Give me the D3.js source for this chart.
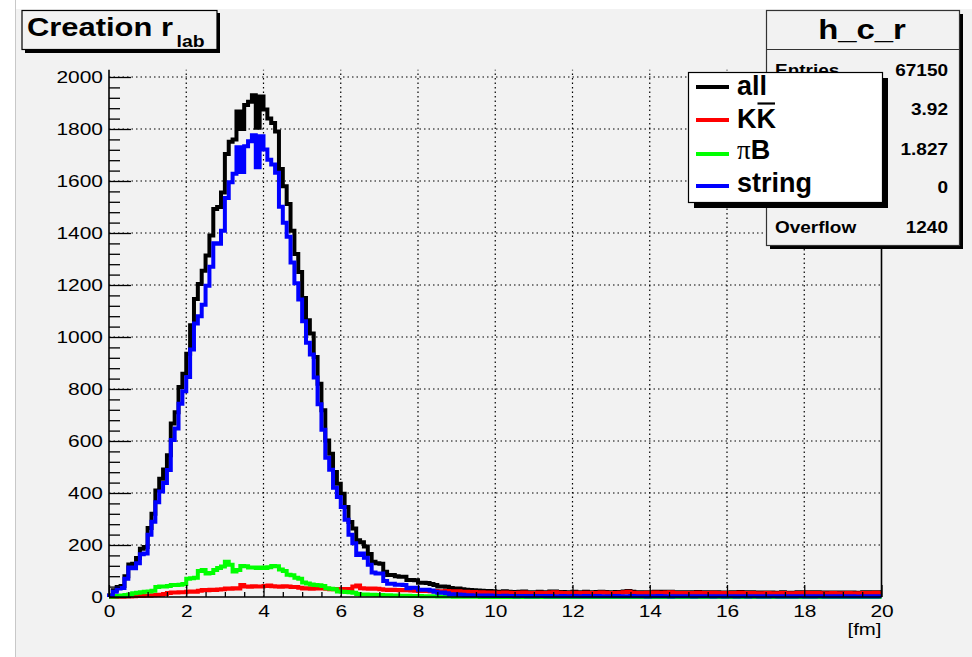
<!DOCTYPE html>
<html><head><meta charset="utf-8">
<script src="https://cdn.jsdelivr.net/npm/d3@7"></script>
<style>body{margin:0;background:#fff}svg{display:block}text{font-family:"Liberation Sans",Arial,Helvetica,sans-serif}</style>
</head><body><svg id="c" width="972" height="657"></svg>
<script>
// ---------- data (200 bins of 0.1 fm, 0..20 fm) ----------
const binWidth = 0.1;
const xDomain = [0, 20];
const yDomainMax = 2028;
const allCounts = [
6,26,38,42,80,125,128,150,186,192,
265,320,410,455,490,545,667,711,808,859,
936,1045,1146,1204,1255,1313,1390,1492,1500,1556,
1704,1751,1760,1867,1800,1892,1905,1930,1805,1925,
1875,1840,1823,1790,1646,1580,1512,1409,1319,1250,
1150,1064,1013,923,820,718,602,551,481,436,
397,346,288,263,218,211,194,165,136,130,
128,97,85,85,80,78,78,65,65,64,
55,55,54,50,46,40,40,39,35,33,
33,30,28,27,26,25,24,23,23,22,
20,19,22,20,19,17,20,21,18,18,
18,20,18,18,21,21,19,19,17,18,
20,18,17,20,18,17,19,20,19,18,
17,19,19,21,23,20,18,17,18,18,
18,20,20,18,20,20,18,17,18,17,
18,16,19,18,17,18,18,18,17,17,
17,18,16,19,18,16,18,17,15,17,
17,17,16,16,18,16,16,16,18,17,
18,18,16,18,17,15,17,17,17,15,
17,17,17,15,16,18,16,18,18,18];
const kkCounts = [
0,0,1,1,2,2,3,4,4,5,
5,7,8,9,12,15,17,17,18,18,
20,21,20,24,27,26,28,27,29,30,
33,32,34,33,46,40,39,41,40,40,
42,44,41,40,39,41,40,38,38,36,
33,34,32,33,34,33,32,30,31,30,
31,30,31,40,44,34,33,32,33,32,
30,28,27,28,27,26,27,26,25,24,
23,24,23,22,23,22,21,23,22,21,
22,20,20,19,19,18,18,17,17,17,
16,15,17,16,15,14,16,17,15,14,
15,16,14,15,17,18,16,15,14,15,
16,15,14,16,15,14,15,17,16,15,
14,15,16,18,20,16,15,14,15,16,
15,17,16,15,17,18,15,14,15,14,
15,14,16,15,14,15,16,15,14,15,
14,15,14,16,15,14,15,14,13,14,
15,14,13,14,15,14,13,14,15,14,
16,15,14,15,14,13,14,15,14,13,
14,15,14,13,14,15,14,15,16,15];
const piBCounts = [
1,2,4,6,8,10,14,16,18,20,
21,24,38,40,40,42,46,46,47,50,
70,72,74,100,104,90,92,104,112,117,
136,124,98,104,119,118,113,113,112,113,
112,114,119,118,106,100,86,84,74,70,
56,52,48,46,45,42,34,32,30,21,
20,19,18,16,12,10,10,9,9,8,
8,7,7,6,6,5,5,5,4,4,
4,3,3,3,3,2,2,2,2,1,
1,1,1,1,1,1,0,1,0,0,
0,0,0,0,0,0,0,0,0,0,
0,0,0,0,0,0,0,0,0,0,
0,0,0,0,0,0,0,0,0,0,
0,0,0,0,0,0,0,0,0,0,
0,0,0,0,0,0,0,0,0,0,
0,0,0,0,0,0,0,0,0,0,
0,0,0,0,0,0,0,0,0,0,
0,0,0,0,0,0,0,0,0,0,
0,0,0,0,0,0,0,0,0,0,
0,0,0,0,0,0,0,0,0,0];
const stringCounts = [
5,20,33,35,70,113,111,130,164,167,
239,289,364,406,438,488,604,648,743,791,
846,952,1052,1080,1124,1197,1270,1361,1359,1409,
1535,1595,1628,1730,1635,1734,1753,1776,1653,1772,
1721,1682,1663,1632,1501,1439,1386,1287,1207,1144,
1061,978,933,844,741,643,536,489,420,385,
346,297,239,207,162,167,151,124,94,90,
90,62,51,51,47,47,46,34,36,36,
28,28,28,25,20,16,17,14,11,11,
10,9,7,7,6,6,6,5,6,5,
4,4,5,4,4,3,4,4,3,4,
3,4,4,3,4,3,3,4,3,3,
4,3,3,4,3,3,4,3,3,3,
3,4,3,3,3,4,3,3,3,2,
3,3,4,3,3,2,3,3,3,3,
3,2,3,3,3,3,2,3,3,2,
3,3,2,3,3,2,3,3,2,3,
2,3,3,2,3,2,3,2,3,3,
2,3,2,3,3,2,3,2,3,2,
3,2,3,2,2,3,2,3,2,3];
const seriesColors = ["#000000", "#ff0000", "#00ff00", "#0000ff"];
const xMajorTicks = [0,2,4,6,8,10,12,14,16,18,20];
const yMajorTicks = [0,200,400,600,800,1000,1200,1400,1600,1800,2000];
// stats rows: labels of Mean / RMS / Underflow are fully hidden under the legend in the reference
const statsLabels = ["Entries","","","","Overflow"];
const statsValues = ["67150","3.92","1.827","0","1240"];

// ---------- layout ----------
const svg = d3.select("#c");
const L = 109, R = 881.5, B = 597;
const x = d3.scaleLinear().domain(xDomain).range([L, R]);
const y = d3.scaleLinear().domain([0, 2000]).range([B, 77]);
const T = y(yDomainMax);

function stretch(sel, s) {
  sel.each(function(){
    const w = this.getComputedTextLength();
    this.setAttribute("textLength", w * s);
    this.setAttribute("lengthAdjust", "spacingAndGlyphs");
  });
}

// pad
svg.append("rect").attr("x",0).attr("y",0).attr("width",972).attr("height",657).attr("fill","#ffffff");
svg.append("rect").attr("x",16).attr("y",9).attr("width",956).attr("height",648).attr("fill","#f2f2f2");
svg.append("line").attr("x1",15.5).attr("x2",15.5).attr("y1",0).attr("y2",657).attr("stroke","#c8c8c8").attr("stroke-width",1);

// grid
const grid = svg.append("g");
grid.selectAll(".gx").data(xMajorTicks.slice(1,-1)).join("line")
  .attr("x1",d=>x(d)).attr("x2",d=>x(d)).attr("y1",B).attr("y2",T)
  .attr("stroke","#000").attr("stroke-width",1.2).attr("stroke-dasharray","1.5,3");
grid.selectAll(".gy").data(yMajorTicks.slice(1)).join("line")
  .attr("x1",L).attr("x2",R).attr("y1",d=>y(d)).attr("y2",d=>y(d))
  .attr("stroke","#000").attr("stroke-width",1.2).attr("stroke-dasharray","1.5,3");

// histograms
const line = d3.line().x(d=>x(d[0])).y(d=>y(d[1])).curve(d3.curveStepAfter);
function pts(arr){
  const p = [[xDomain[0], 0]];
  arr.forEach((v,i)=>p.push([xDomain[0] + i*binWidth, v]));
  p.push([xDomain[1], arr[arr.length-1]]);
  return p;
}
[allCounts, kkCounts, piBCounts, stringCounts].forEach((arr,i)=>{
  svg.append("path").attr("d", line(pts(arr))).attr("fill","none")
    .attr("stroke", seriesColors[i]).attr("stroke-width", 4)
    .attr("stroke-linejoin","miter").attr("stroke-linecap","butt");
});

// axes
const yMinor = d3.range(0, 2001, 40).filter(v=>v%200!==0);
const xMinor = d3.range(0, 20.01, 0.5).filter(v=>Math.abs(v/2-Math.round(v/2))>1e-6);
const gy = svg.append("g").attr("transform",`translate(${L},0)`);
gy.call(d3.axisLeft(y).tickValues(yMajorTicks).tickSizeInner(-22).tickSizeOuter(0).tickPadding(6).tickFormat(d3.format("d")));
gy.select(".domain").remove();
gy.selectAll(".tick line").attr("stroke","#000").attr("stroke-width",1.3);
gy.selectAll("text").attr("font-size",17).attr("fill","#000").attr("dy","0.35em");
stretch(gy.selectAll("text"), 1.23);
const gy2 = svg.append("g").attr("transform",`translate(${L},0)`);
gy2.call(d3.axisLeft(y).tickValues(yMinor).tickSizeInner(-11).tickSizeOuter(0).tickFormat(""));
gy2.select(".domain").remove();
gy2.selectAll(".tick line").attr("stroke","#000").attr("stroke-width",1.3);

const gx = svg.append("g").attr("transform",`translate(0,${B})`);
gx.call(d3.axisBottom(x).tickValues(xMajorTicks).tickSizeInner(-12).tickSizeOuter(0).tickPadding(8).tickFormat(d3.format("d")));
gx.select(".domain").remove();
gx.selectAll(".tick line").attr("stroke","#000").attr("stroke-width",1.3);
gx.selectAll("text").attr("font-size",17).attr("fill","#000");
stretch(gx.selectAll("text"), 1.23);
const gx2 = svg.append("g").attr("transform",`translate(0,${B})`);
gx2.call(d3.axisBottom(x).tickValues(xMinor).tickSizeInner(-5).tickSizeOuter(0).tickFormat(""));
gx2.select(".domain").remove();
gx2.selectAll(".tick line").attr("stroke","#000").attr("stroke-width",1.3);

// axis lines / frame
svg.append("line").attr("x1",L).attr("x2",L).attr("y1",B).attr("y2",T).attr("stroke","#000").attr("stroke-width",1.6);
svg.append("line").attr("x1",L).attr("x2",R).attr("y1",B).attr("y2",B).attr("stroke","#000").attr("stroke-width",1.6);
svg.append("line").attr("x1",R).attr("x2",R).attr("y1",B).attr("y2",T).attr("stroke","#000").attr("stroke-width",1.6);

// x-axis title
const xt = svg.append("text").attr("x",R).attr("y",635).attr("text-anchor","end").attr("font-size",17).text("[fm]");
stretch(xt, 1.2);

// title box
svg.append("rect").attr("x",25).attr("y",13).attr("width",195).attr("height",40).attr("fill","#000");
svg.append("rect").attr("x",22).attr("y",10.5).attr("width",195).attr("height",39).attr("fill","#f2f2f2").attr("stroke","#000").attr("stroke-width",1.2);
svg.append("text").attr("x",27).attr("y",36).attr("font-size",26).attr("font-weight","bold").text("Creation r")
  .attr("textLength",146).attr("lengthAdjust","spacingAndGlyphs");
svg.append("text").attr("x",176.5).attr("y",47).attr("font-size",17).attr("font-weight","bold").text("lab")
  .attr("textLength",28).attr("lengthAdjust","spacingAndGlyphs");

// stats box
svg.append("rect").attr("x",770).attr("y",14).attr("width",193).attr("height",235).attr("fill","#000");
svg.append("rect").attr("x",766.5).attr("y",10.5).attr("width",193).attr("height",235).attr("fill","#f2f2f2").attr("stroke","#333").attr("stroke-width",1.2);
svg.append("line").attr("x1",766.5).attr("x2",959.5).attr("y1",49.5).attr("y2",49.5).attr("stroke","#333").attr("stroke-width",1.2);
const st = svg.append("text").attr("x",862).attr("y",38.5).attr("text-anchor","middle").attr("font-size",27.4).attr("font-weight","bold").text("h_c_r");
stretch(st, 1.2);
const statY = [76,115,155,193,233];
statsValues.forEach((val,i)=>{
  if (statsLabels[i]) {
    const t1 = svg.append("text").attr("x",775).attr("y",statY[i]).attr("font-size",16.5).attr("font-weight","bold").text(statsLabels[i]);
    stretch(t1, 1.15);
  }
  const t2 = svg.append("text").attr("x",948).attr("y",statY[i]).attr("text-anchor","end").attr("font-size",16.5).attr("font-weight","bold").text(val);
  stretch(t2, 1.15);
});

// legend
svg.append("rect").attr("x",694).attr("y",78).attr("width",194).attr("height",130).attr("fill","#000");
svg.append("rect").attr("x",688.5).attr("y",72.5).attr("width",194).attr("height",130).attr("fill","#fff").attr("stroke","#000").attr("stroke-width",1.2);
const legY = [87,120,154,186];
const legBase = [95,128,159,192];
legY.forEach((ly,i)=>{
  svg.append("line").attr("x1",696).attr("x2",729).attr("y1",ly).attr("y2",ly).attr("stroke",seriesColors[i]).attr("stroke-width",4);
});
svg.append("text").attr("x",737).attr("y",legBase[0]).attr("font-size",27).attr("font-weight","bold").text("all");
const kk = svg.append("text").attr("x",737).attr("y",legBase[1]).attr("font-size",27).attr("font-weight","bold").text("KK");
const ext = kk.node().getExtentOfChar(1);
svg.append("line").attr("x1",ext.x+1).attr("x2",ext.x+ext.width-1).attr("y1",legBase[1]-24.5).attr("y2",legBase[1]-24.5).attr("stroke","#000").attr("stroke-width",2.2);
const pb = svg.append("text").attr("x",737).attr("y",legBase[2]).attr("font-size",27);
pb.append("tspan").attr("font-family","'Liberation Serif','DejaVu Serif',serif").text("π");
pb.append("tspan").attr("font-weight","bold").text("B");
svg.append("text").attr("x",737).attr("y",legBase[3]).attr("font-size",27).attr("font-weight","bold").text("string");
</script>
</body></html>
